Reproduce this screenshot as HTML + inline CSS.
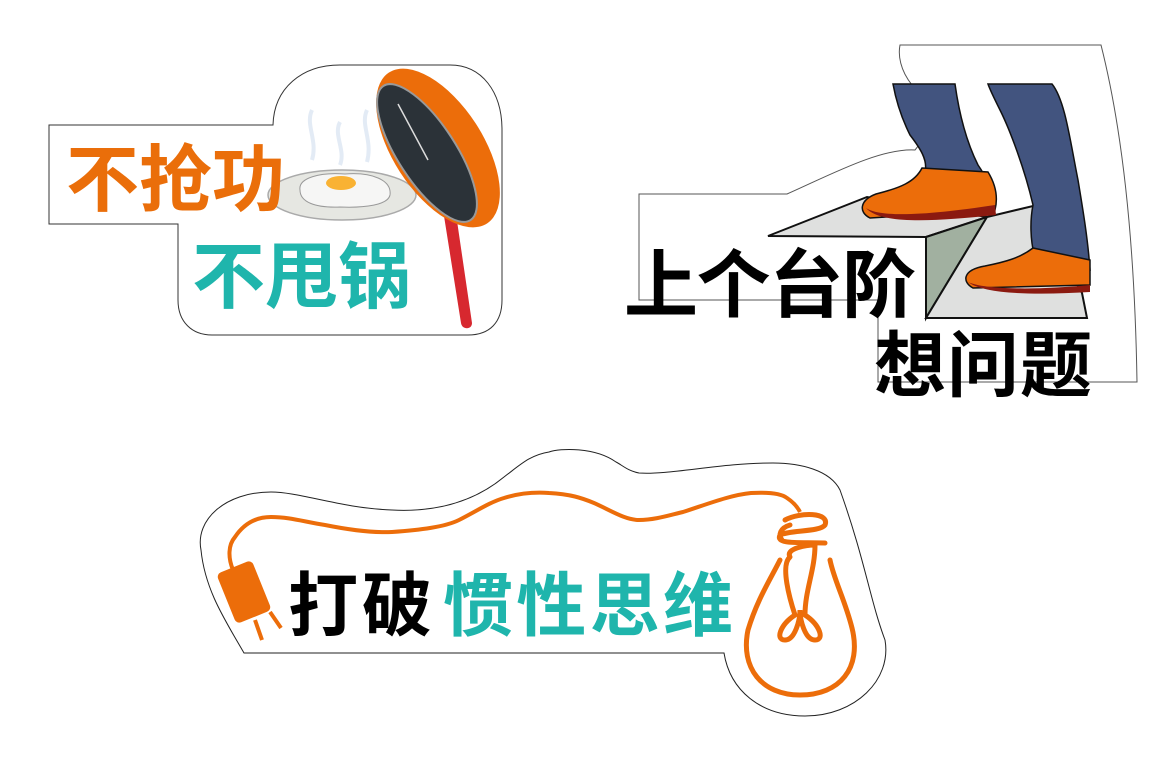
<!DOCTYPE html>
<html><head><meta charset="utf-8"><style>
html,body{margin:0;padding:0;background:#fff}
svg{display:block}
text{font-family:"Liberation Sans","Noto Sans CJK SC",sans-serif;font-weight:bold}
</style></head><body>
<svg width="1157" height="772" viewBox="0 0 1157 772">
<rect width="1157" height="772" fill="#fff"/>

<!-- Sign 1 -->
<g>
<path d="M49,125 H273 C274,88 302,65 340,65 H450 C482,65 502,92 502,130 V300 C502,322 490,335 468,335 H212 C192,335 178,322 178,300 V224 H49 Z" fill="#fff" stroke="#333" stroke-width="1"/>
<g fill="none" stroke="#e3ebf5" stroke-width="4">
<path d="M312,110 C305,125 318,140 312,160"/><path d="M340,122 C333,135 346,150 340,165"/><path d="M367,110 C360,125 373,140 367,162"/>
</g>
<ellipse cx="342" cy="195" rx="74" ry="25" fill="#e6e7e2" stroke="#aaa" stroke-width="1.5"/>
<path d="M300,190 C298,178 320,172 345,174 C372,172 392,180 390,195 C388,205 365,208 340,207 C315,208 300,202 300,190 Z" fill="#f6f6f5" stroke="#999" stroke-width="1"/>
<ellipse cx="341" cy="183" rx="15" ry="7" fill="#f9b233"/>
<g>
<path d="M444,216 L456,214 L472,323 C472,330 462,330 461,323 Z" fill="#d7282f"/>
<ellipse cx="438" cy="148" rx="90" ry="45" transform="rotate(57 438 148)" fill="#ec6d0a"/>
<ellipse cx="427" cy="153" rx="80" ry="29" transform="rotate(57 427 153)" fill="#2b3238" stroke="#999" stroke-width="2"/>
<path d="M398,104 L428,160" stroke="#ddd" stroke-width="1.5"/>
</g>
<text x="66" y="205" font-size="73" fill="#ea6e0a">不抢功</text>
<text x="192" y="302" font-size="73" fill="#1fb5ac">不甩锅</text>
</g>

<!-- Sign 2 -->
<g>
<path d="M900,45 H1101 C1125,140 1135,260 1137,382 H878 V300 H639 V194 H787 C830,175 880,148 915,150 C932,130 925,100 912,85 C900,70 898,55 900,45 Z" fill="#fff" stroke="#555" stroke-width="1"/>
<polygon points="768,236 867,197 987,217 926,237" fill="#dfe0df" stroke="#111" stroke-width="2"/>
<polygon points="926,237 987,217 926,318" fill="#a1b0a0" stroke="#111" stroke-width="2"/>
<polygon points="926,318 1087,318 1082,293 1033,206 987,217" fill="#dfe0df" stroke="#111" stroke-width="2"/>
<path d="M893,84 H955 C960,120 968,145 978,165 C985,175 990,185 988,195 L925,172 C928,160 920,148 910,135 C900,115 895,95 893,84 Z" fill="#42547f" stroke="#111" stroke-width="1.5"/>
<path d="M988,84 H1052 C1065,100 1070,140 1078,180 C1083,210 1088,240 1090,270 L1035,258 C1030,240 1030,220 1033,205 C1025,170 1010,130 1000,110 C995,100 990,90 988,84 Z" fill="#42547f" stroke="#111" stroke-width="1.5"/>
<path d="M922,168 L988,172 C996,185 998,198 995,210 L870,218 C858,212 860,200 876,194 C900,188 915,182 922,168 Z" fill="#ec6d0a" stroke="#111" stroke-width="1.5"/>
<path d="M866,208 C880,218 930,215 995,205 L996,215 C930,222 880,224 866,208 Z" fill="#8b1a10"/>
<path d="M1033,248 L1090,260 L1090,285 L973,288 C962,282 962,270 985,266 C1005,262 1020,258 1033,248 Z" fill="#ec6d0a" stroke="#111" stroke-width="1.5"/>
<path d="M968,282 C985,290 1040,290 1090,285 L1090,292 C1040,295 985,295 968,282 Z" fill="#8b1a10"/>
<text x="624" y="311" font-size="74" fill="#000" textLength="292">上个台阶</text>
<text x="874" y="391" font-size="72" fill="#000" textLength="218">想问题</text>
</g>

<!-- Sign 3 -->
<g>
<path d="M244,653 H724 C730,690 760,716 805,716 C855,716 892,680 885,640 C870,600 865,560 840,490 C830,470 800,463 773,463 C720,463 670,475 639,473 C628,471 622,465 616,462 C595,447 560,448 549,452 C530,455 520,465 504,477 C470,505 430,512 392,510 C340,508 300,492 271,492 C225,492 195,520 201,550 C205,590 225,620 244,653 Z" fill="#fff" stroke="#222" stroke-width="1"/>
<path d="M233,570 C228,558 228,545 235,537 C245,522 258,517 271,517 C290,517 305,522 325,525 C350,530 372,533 392,532 C420,530 445,527 459,520 C475,512 490,502 504,498 C520,493 535,492 549,493 C570,494 582,498 594,503 C610,510 625,520 639,520 C655,520 670,515 683,512 C705,505 730,495 751,493 C770,492 782,494 787,498 C793,502 797,506 800,512" fill="none" stroke="#ec6d0a" stroke-width="4"/>
<g>
<rect x="225" y="565" width="38" height="54" rx="5" transform="rotate(-22 244 592)" fill="#ec6d0a"/>
<line x1="255" y1="620" x2="262" y2="640" stroke="#ec6d0a" stroke-width="4"/>
<line x1="270" y1="612" x2="281" y2="628" stroke="#ec6d0a" stroke-width="4"/>
</g>
<g fill="none" stroke="#ec6d0a" stroke-width="5" stroke-linecap="round">
<path d="M785,520 C800,512 830,512 825,525 C820,532 790,530 780,535 C775,545 800,542 825,543 M790,525 C780,528 778,535 782,540"/>
<path d="M780,560 C770,580 757,600 748,630 C740,668 762,695 800,695 C840,695 862,668 852,628 C845,600 834,580 830,560"/>
<path d="M790,557 C780,565 790,600 795,615 C780,625 775,640 785,640 C795,640 800,620 800,610 C800,620 805,640 815,640 C825,640 820,625 805,615 C805,590 815,570 815,545 M790,557 C785,548 808,545 815,545"/>
</g>
<text x="288" y="630" font-size="70" fill="#000" textLength="144">打破</text>
<text x="443" y="630" font-size="70" fill="#1fb5ac" textLength="290">惯性思维</text>
</g>
</svg>
</body></html>
